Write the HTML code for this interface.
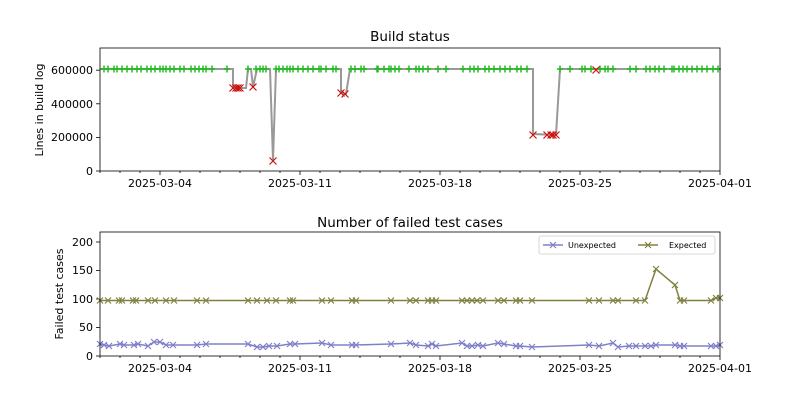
<!DOCTYPE html>
<html><head><meta charset="utf-8"><style>
body{margin:0;background:#fff}
svg{font-family:"DejaVu Sans","Liberation Sans",sans-serif}
</style></head><body>
<svg id="s" width="800" height="400" xmlns="http://www.w3.org/2000/svg">
<rect width="800" height="400" fill="#fff"/>
<text x="410" y="41" font-size="13.5" text-anchor="middle">Build status</text>
<text x="410" y="227" font-size="13.5" text-anchor="middle">Number of failed test cases</text>
<text transform="translate(43,110) rotate(-90)" font-size="11" text-anchor="middle">Lines in build log</text>
<text transform="translate(63,294) rotate(-90)" font-size="11" text-anchor="middle">Failed test cases</text>
<g font-size="11" text-anchor="end">
<text x="93" y="175">0</text><text x="93" y="141">200000</text><text x="93" y="108">400000</text><text x="93" y="74">600000</text>
<text x="93" y="360">0</text><text x="93" y="331">50</text><text x="93" y="303">100</text><text x="93" y="274">150</text><text x="93" y="246">200</text>
</g>
<g font-size="11" text-anchor="middle">
<text x="160" y="187">2025-03-04</text><text x="300" y="187">2025-03-11</text><text x="440" y="187">2025-03-18</text><text x="580" y="187">2025-03-25</text><text x="720" y="187">2025-04-01</text>
<text x="160" y="372">2025-03-04</text><text x="300" y="372">2025-03-11</text><text x="440" y="372">2025-03-18</text><text x="580" y="372">2025-03-25</text><text x="720" y="372">2025-04-01</text>
</g>
<g id="g"></g>
<rect x="100" y="48" width="620" height="123" fill="none" stroke="#000" stroke-width="0.8"/>
<rect x="100" y="232" width="620" height="124" fill="none" stroke="#000" stroke-width="0.8"/>
<rect x="539" y="236" width="176" height="18" rx="2" fill="#fff" stroke="#ccc" stroke-width="0.8"/>
<line x1="543" y1="245" x2="563" y2="245" stroke="#8080c8" stroke-width="1.5"/>
<path d="M550,242L556,248M550,248L556,242" stroke="#8080c8" stroke-width="1.2"/>
<text x="568" y="248" font-size="8">Unexpected</text>
<line x1="638" y1="245" x2="658" y2="245" stroke="#808040" stroke-width="1.5"/>
<path d="M645,242L651,248M645,248L651,242" stroke="#808040" stroke-width="1.2"/>
<text x="669" y="248" font-size="8">Expected</text>
</svg>
<script>
const g=document.getElementById('g');let h='';
function L(pts,c,w){h+=`<polyline points="${pts.map(p=>p.join(',')).join(' ')}" fill="none" stroke="${c}" stroke-width="${w}"/>`;}
function X(x,y,c,s){h+=`<path d="M${x-s},${y-s}L${x+s},${y+s}M${x-s},${y+s}L${x+s},${y-s}" stroke="${c}" stroke-width="1.2"/>`;}
function P(x,y){h+=`<path d="M${x-3},${y}L${x+3},${y}M${x},${y-3.5}L${x},${y+3.5}" stroke="#22bb22" stroke-width="1.5"/>`;}
for(let d=0;d<=31;d++){let x=100+d*20;let big=(d%7==3);
h+=`<line x1="${x}" y1="171" x2="${x}" y2="${171+(big?4:2)}" stroke="#000" stroke-width="0.8"/>`;
h+=`<line x1="${x}" y1="356" x2="${x}" y2="${356+(big?4:2)}" stroke="#000" stroke-width="0.8"/>`;}
[171,137.4,103.8,70.2].forEach(y=>h+=`<line x1="96" y1="${y}" x2="100" y2="${y}" stroke="#000" stroke-width="0.8"/>`);
[356,327.5,299,270.5,242].forEach(y=>h+=`<line x1="96" y1="${y}" x2="100" y2="${y}" stroke="#000" stroke-width="0.8"/>`);
const B=69;
L([[100,B],[233,B],[233,88],[246,88],[248,69],[251,69],[253,87],[257,69],[270,69],[273,160],[276,69],[341,69],[341,93],[346,94],[350,69],[533,69],[533,134],[556,135],[560,69],[720,69]],'#999',2);
const greens=[104,108,114,117,122,127,132,137,141,147,151,155,160,163,166,170,174,180,184,191,195,199,203,206,212,227,248,256,260,263,266,276,279,283,287,290,293,298,303,308,313,319,321,326,333,336,351,355,361,364,377,378,384,389,391,395,399,409,416,419,423,428,438,446,463,470,474,478,485,489,494,500,505,510,517,521,527,560,570,582,585,591,600,605,608,613,630,636,646,650,655,659,664,672,674,679,683,687,692,697,702,707,713,718];
greens.forEach(x=>P(x,B));
[[233,88],[236,88],[238,88],[240,88],[253,87],[273,161],[341,93],[345,94],[533,135],[547,135],[551,135],[553,135],[556,135],[596,70]].forEach(p=>X(p[0],p[1],'#cc1111',3.5));
const ux=[100,104,109,120,124,134,138,148,154,160,166,173,197,206,248,257,263,269,277,290,295,322,331,352,356,391,410,416,428,432,436,462,467,472,478,483,498,504,516,520,532,589,599,613,618,629,636,645,651,656,675,680,684,711,716,720];
const uy=[344,345,346,344,345,345,344,346,342,342,345,345,345,344,344,347,347,346,346,344,344,343,345,345,345,344,343,345,346,344,346,343,346,346,345,346,343,344,346,346,347,345,346,343,347,346,346,346,346,345,345,346,346,346,346,345];
L(ux.map((x,i)=>[x,uy[i]]),'#8080c8',1.5);ux.forEach((x,i)=>X(x,uy[i],'#8080c8',3));
const ex=[100,108,119,122,133,136,148,155,166,174,197,206,248,257,267,276,290,293,322,331,352,356,391,410,416,428,432,436,462,467,472,477,483,498,504,516,520,532,589,599,613,618,636,645,656,675,680,684,711,716,720];
const ey=ex.map(x=>x==656?269:x==675?285:(x>=716?298:300.5));
L(ex.map((x,i)=>[x,ey[i]]),'#808040',1.5);ex.forEach((x,i)=>X(x,ey[i],'#808040',3));
g.innerHTML=h;
</script>
</body></html>
